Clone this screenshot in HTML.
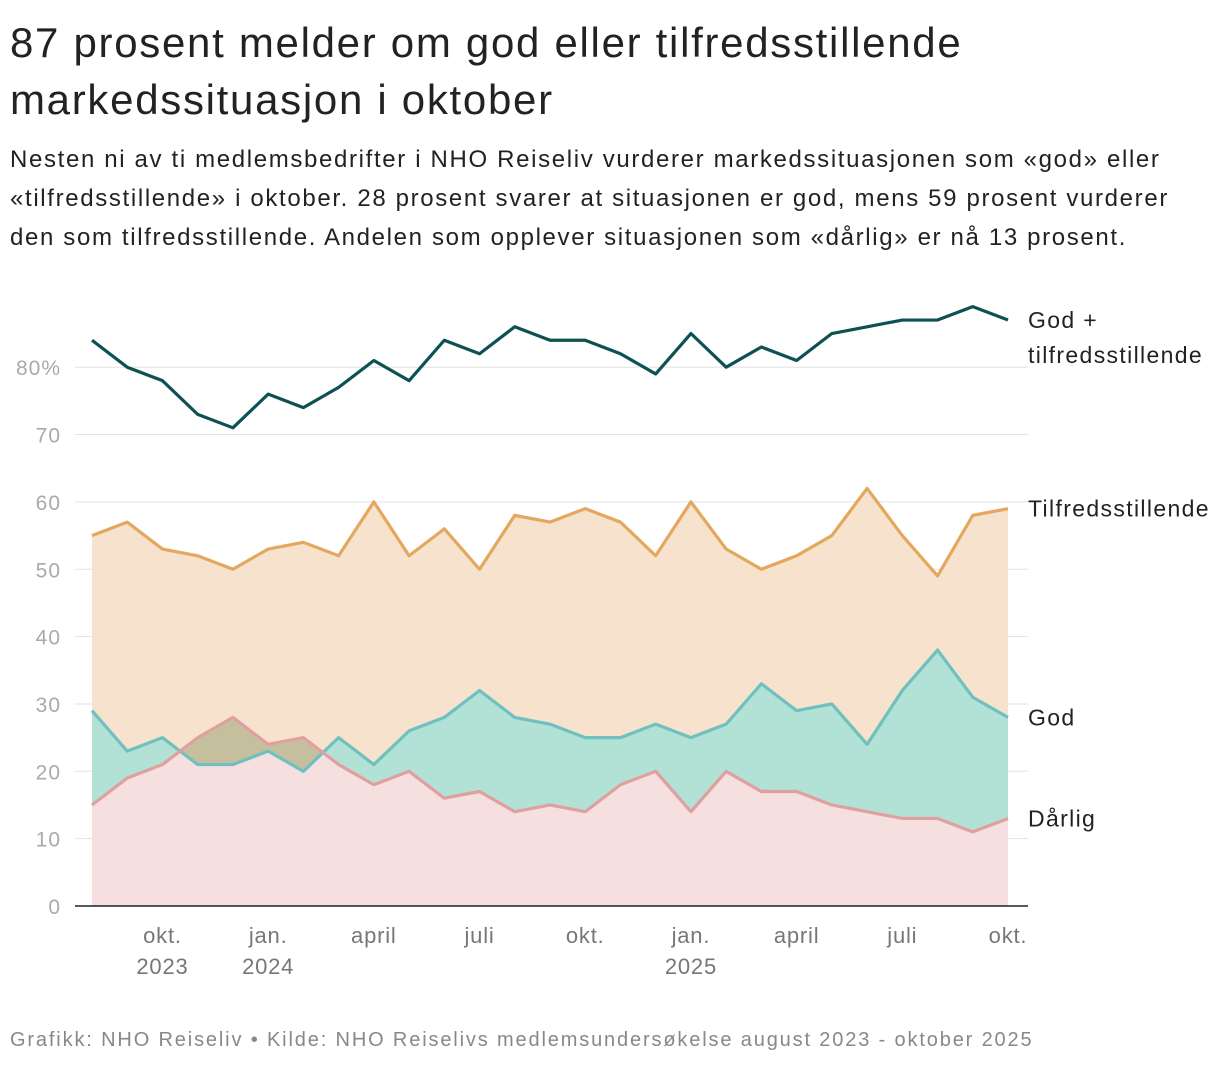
<!DOCTYPE html>
<html><head><meta charset="utf-8">
<style>
body{margin:0;width:1220px;height:1068px;background:#fff;font-family:"Liberation Sans",sans-serif;color:#222;overflow:hidden;position:relative}
h1{position:absolute;left:10px;top:14px;margin:0;font-size:42px;font-weight:normal;line-height:57px;letter-spacing:1.7px;white-space:nowrap}
p.sub{position:absolute;left:10px;top:140px;margin:0;font-size:24px;line-height:39px;letter-spacing:1.65px;white-space:nowrap}
.foot{position:absolute;left:10px;top:1029px;font-size:20px;color:#888;letter-spacing:1.85px;white-space:nowrap}
svg{position:absolute;left:0;top:0}
</style></head><body>
<h1>87 prosent melder om god eller tilfredsstillende<br>markedssituasjon i oktober</h1>
<p class="sub">Nesten ni av ti medlemsbedrifter i NHO Reiseliv vurderer markedssituasjonen som «god» eller<br>«tilfredsstillende» i oktober. 28 prosent svarer at situasjonen er god, mens 59 prosent vurderer<br>den som tilfredsstillende. Andelen som opplever situasjonen som «dårlig» er nå 13 prosent.</p>
<svg id="chart" width="1220" height="1068"></svg>
<div class="foot">Grafikk: NHO Reiseliv • Kilde: NHO Reiselivs medlemsundersøkelse august 2023 - oktober 2025</div>
<script>
const total=[84,80,78,73,71,76,74,77,81,78,84,82,86,84,84,82,79,85,80,83,81,85,86,87,87,89,87];
const tilfreds=[55,57,53,52,50,53,54,52,60,52,56,50,58,57,59,57,52,60,53,50,52,55,62,55,49,58,59];
const god=[29,23,25,21,21,23,20,25,21,26,28,32,28,27,25,25,27,25,27,33,29,30,24,32,38,31,28];
const darlig=[15,19,21,25,28,24,25,21,18,20,16,17,14,15,14,18,20,14,20,17,17,15,14,13,13,11,13];
const yTicks=[0,10,20,30,40,50,60,70,80];
const xTickIdx=[2,5,8,11,14,17,20,23,26];
const xTickLabels=[["okt.","2023"],["jan.","2024"],["april"],["juli"],["okt."],["jan.","2025"],["april"],["juli"],["okt."]];
const NS="http://www.w3.org/2000/svg";
const svg=document.getElementById('chart');
const x=i=>92+i*(1008-92)/26;
const y=v=>906-v*6.735;
function mk(t,a,p){const e=document.createElementNS(NS,t);for(const k in a)e.setAttribute(k,a[k]);(p||svg).appendChild(e);return e;}
function pts(arr){return arr.map((v,i)=>x(i)+','+y(v)).join(' ');}
function area(arr){return x(0)+','+y(0)+' '+pts(arr)+' '+x(arr.length-1)+','+y(0);}
yTicks.forEach(v=>{
 if(v>0){const g=mk('line',{x1:75,x2:1028,y1:y(v),y2:y(v),stroke:'#e3e3e3','stroke-width':1});
 }
 const t=mk('text',{x:61,y:y(v)+8,'text-anchor':'end','font-size':21,fill:'#aaa','letter-spacing':1});
 t.textContent=v===80?'80%':v;
 
});
const defs=mk('defs',{});
const cp=mk('clipPath',{id:'aboveGod'},defs);
mk('polygon',{points:x(0)+',0 '+pts(god)+' '+x(26)+',0'},cp);
const a1=mk('polygon',{points:area(tilfreds),fill:'#f7e3cd'});

const a2=mk('polygon',{points:area(god),fill:'#b2e1d6'});

const a3=mk('polygon',{points:area(darlig),fill:'#f5dfdf'});

const a4=mk('polygon',{points:area(darlig),fill:'#c6bf9e','clip-path':'url(#aboveGod)'});

[[tilfreds,'#e4a75e','tilfredsstillende-line'],[god,'#6fc0bf','god-line'],[darlig,'#e0a0a0','darlig-line'],[total,'#0d5152','total-line']].forEach(([d,c,n])=>{
 const l=mk('polyline',{points:pts(d),fill:'none',stroke:c,'stroke-width':3.2,'stroke-linejoin':'round'});
 
});
const b=mk('line',{x1:75,x2:1028,y1:906,y2:906,stroke:'#222','stroke-width':1.5});

xTickIdx.forEach((idx,k)=>{
 xTickLabels[k].forEach((s,j)=>{
  const t=mk('text',{x:x(idx),y:943+j*31,'text-anchor':'middle','font-size':22,fill:'#777','letter-spacing':0.8});
  t.textContent=s;
 });
});
[[['God +','tilfredsstillende'],total],[['Tilfredsstillende'],tilfreds],[['God'],god],[['Dårlig'],darlig]].forEach(([lines,d])=>{
 lines.forEach((s,j)=>{
  const t=mk('text',{x:1028,y:y(d[26])+8+j*35,'font-size':23,fill:'#222','letter-spacing':1.35});
  t.textContent=s;
 });
});
</script>
</body></html>
